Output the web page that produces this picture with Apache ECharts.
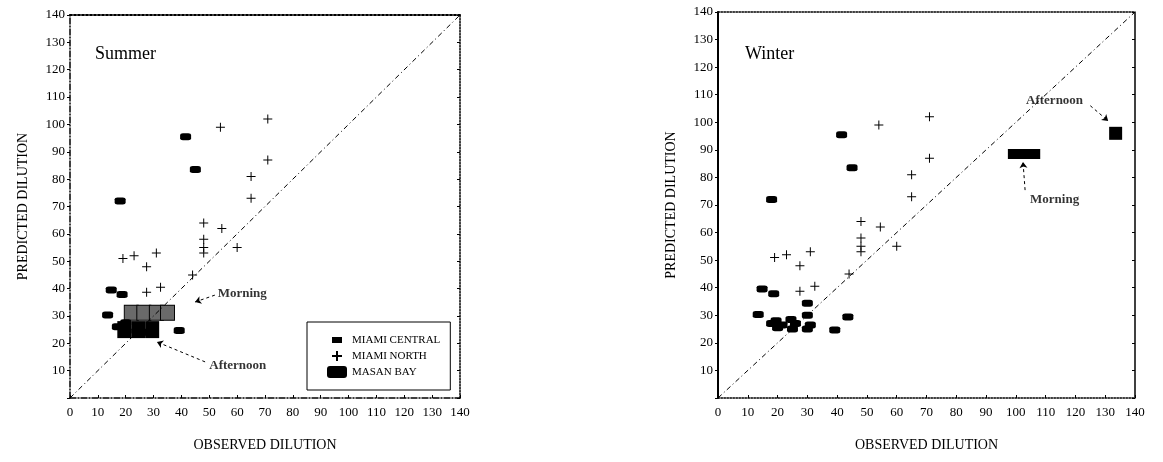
<!DOCTYPE html>
<html>
<head>
<meta charset="utf-8">
<script src="https://cdn.jsdelivr.net/npm/echarts@6/dist/echarts.min.js"></script>
</head>
<body style="margin:0;background:#fff">
<div id="main" style="width:1163px;height:462px;"></div>
<script>
// observed dilution vs predicted dilution
var miamiNorth = [[54,99],[71,102],[71,87],[65,81],[65,73],[48,64],[54.5,62],[48,58],[48,55],[48,53],
    [60,55],[19,51],[23,52],[31,53],[27.5,48],[27.5,38.7],[32.5,40.5],[44,45]];
var summerCentral = [[41.5,95.5],[45,83.5],[18,72],[14.8,39.5],[18.7,37.8],[13.5,30.3],[39.2,24.7],
    [17,26],[20,27.5],[24,24.5],[28,24]];
var winterCentral = [[41.5,95.5],[45,83.5],[18,72],[14.8,39.5],[18.7,37.8],[13.5,30.3],[39.2,24.7],
    [43.6,29.4],[30,34.4],[30,30],[18,27],[20,25.5],[19.5,28],[21.5,26.5],[24.5,28.5],[26,27],
    [25,25],[30,25],[31,26.5]];
var masanSummerMorning = [[22,31.2],[26.5,31.2],[31,31.2],[35,31.2]];
var masanSummerAfternoon = [[19.5,25],[24.5,25],[29.5,25]];
var masanWinterMorning = [[99,88.5],[101.5,88.5],[104,88.5],[106.5,88.5]];
var masanWinterAfternoon = [[133.5,96]];
var diagonal = [[0,0],[140,140]];

var serif = 'Liberation Serif';
var plusIcon = 'path://M4,0h1v4h4v1h-4v4h-1v-4h-4v-1h4z';

var chart = echarts.init(document.getElementById('main'));

function xAx(grid, pos, lineType, width) {
    return {
        type: 'value', gridIndex: grid, position: pos, min: 0, max: 140, interval: 10,
        name: pos === 'bottom' ? 'OBSERVED DILUTION' : '',
        nameLocation: 'middle', nameGap: 40,
        nameTextStyle: {fontFamily: serif, fontSize: 14, color: '#000'},
        axisLine: {onZero: false, lineStyle: {color: '#000', type: lineType, width: width}},
        axisTick: {show: pos === 'bottom', inside: true, length: 3, lineStyle: {color: '#000'}},
        axisLabel: {show: pos === 'bottom', fontFamily: serif, fontSize: 13, color: '#000', margin: 8,
            interval: 0, hideOverlap: false},
        splitLine: {show: false}
    };
}
function yAx(grid, pos, lineType, width) {
    return {
        type: 'value', gridIndex: grid, position: pos, min: 0, max: 140, interval: 10,
        name: pos === 'left' ? 'PREDICTED DILUTION' : '',
        nameLocation: 'middle', nameGap: 40,
        nameTextStyle: {fontFamily: serif, fontSize: 14, color: '#000'},
        axisLine: {onZero: false, lineStyle: {color: '#000', type: lineType, width: width}},
        axisTick: {show: true, inside: pos === 'right', length: 3, lineStyle: {color: '#000'}},
        axisLabel: {show: pos === 'left', fontFamily: serif, fontSize: 13, color: '#000', margin: 5,
            formatter: function (v) { return v === 0 ? '' : v; }},
        splitLine: {show: false}
    };
}
function pts(name, grid, data, symbol, size, style) {
    return {
        type: 'scatter', name: name, xAxisIndex: grid * 2, yAxisIndex: grid * 2,
        data: data, symbol: symbol, symbolSize: size, itemStyle: style
    };
}
function note(grid, items, pos) {
    return {
        type: 'scatter', xAxisIndex: grid * 2, yAxisIndex: grid * 2, symbolSize: 0, silent: true,
        data: items,
        label: {show: true, position: pos, distance: 0, formatter: '{b}', fontFamily: serif,
            fontSize: 13, fontWeight: 'bold', color: '#000'}
    };
}
function arrows(grid, list) {
    return {
        type: 'lines', coordinateSystem: 'cartesian2d', xAxisIndex: grid * 2, yAxisIndex: grid * 2,
        symbol: ['none', 'arrow'], symbolSize: 6, silent: true,
        lineStyle: {color: '#000', type: [3, 3], width: 1, opacity: 1},
        data: list.map(function (c) { return {coords: c}; })
    };
}
var black = {color: '#000', opacity: 1};
var hatched = {color: '#6a6a6a', borderColor: '#000', borderWidth: 1, opacity: 1};

option = {
    animation: false,
    title: [
        {text: 'Summer', left: 90, top: 40, textStyle: {fontFamily: serif, fontSize: 18, fontWeight: 'normal', color: '#000'}},
        {text: 'Winter', left: 740, top: 40, textStyle: {fontFamily: serif, fontSize: 18, fontWeight: 'normal', color: '#000'}}
    ],
    grid: [
        {left: 70, right: 703, top: 15, bottom: 64},
        {left: 718, right: 28, top: 12, bottom: 64}
    ],
    legend: {
        left: 307, top: 322, orient: 'vertical', itemGap: 4, itemWidth: 20, itemHeight: 12,
        padding: [12, 10, 12, 20], borderColor: '#000', borderWidth: 1,
        textStyle: {fontFamily: serif, fontSize: 11, color: '#000'},
        selectedMode: false,
        data: [
            {name: 'MIAMI CENTRAL', icon: 'path://M0,0M20,12M5,3h10v6h-10z', itemStyle: black},
            {name: 'MIAMI NORTH', icon: 'path://M0,0M20,12M9,1h2v4h4v2h-4v4h-2v-4h-4v-2h4z', itemStyle: black},
            {name: 'MASAN BAY', icon: 'roundRect', itemStyle: black}
        ]
    },
    xAxis: [xAx(0, 'bottom', [6, 2, 1, 2], 1.5), xAx(0, 'top', 'dotted', 2),
            xAx(1, 'bottom', 'dotted', 1.5), xAx(1, 'top', 'dotted', 1.5)],
    yAxis: [yAx(0, 'left', [6, 2, 1, 2], 1.5), yAx(0, 'right', 'dotted', 1.5),
            yAx(1, 'left', 'solid', 2), yAx(1, 'right', 'solid', 1.5)],
    series: [
        {type: 'line', xAxisIndex: 0, yAxisIndex: 0, data: diagonal, symbol: 'none', silent: true,
            lineStyle: {color: '#000', width: 1, type: [5, 3, 1, 3]}},
        {type: 'line', xAxisIndex: 2, yAxisIndex: 2, data: diagonal, symbol: 'none', silent: true,
            lineStyle: {color: '#000', width: 1, type: [5, 3, 1, 3]}},
        pts('MASAN BAY', 0, masanSummerAfternoon, 'rect', [14, 17], black),
        pts('MASAN BAY', 0, masanSummerMorning, 'rect', [14, 15], hatched),
        pts('MIAMI CENTRAL', 0, summerCentral, 'roundRect', [11, 7], black),
        pts('MIAMI NORTH', 0, miamiNorth, plusIcon, 9, black),
        pts('MASAN BAY', 1, masanWinterMorning, 'rect', [10, 10], black),
        pts('MASAN BAY', 1, masanWinterAfternoon, 'rect', [13, 13], black),
        pts('MIAMI CENTRAL', 1, winterCentral, 'roundRect', [11, 7], black),
        pts('MIAMI NORTH', 1, miamiNorth, plusIcon, 9, black),
        note(0, [{name: 'Morning', value: [53, 38.3]}, {name: 'Afternoon', value: [50, 11.7]}], 'right'),
        note(1, [{name: 'Afternoon', value: [113, 108]}, {name: 'Morning', value: [113, 72]}], 'inside'),
        arrows(0, [[[52, 37.6], [44.9, 35.1]], [[48.5, 13.2], [31.2, 20.5]]]),
        arrows(1, [[[125, 106], [131, 100.5]], [[103.1, 75.4], [102.4, 85.6]]])
    ]
};

chart.setOption(option);
</script>
</body>
</html>
